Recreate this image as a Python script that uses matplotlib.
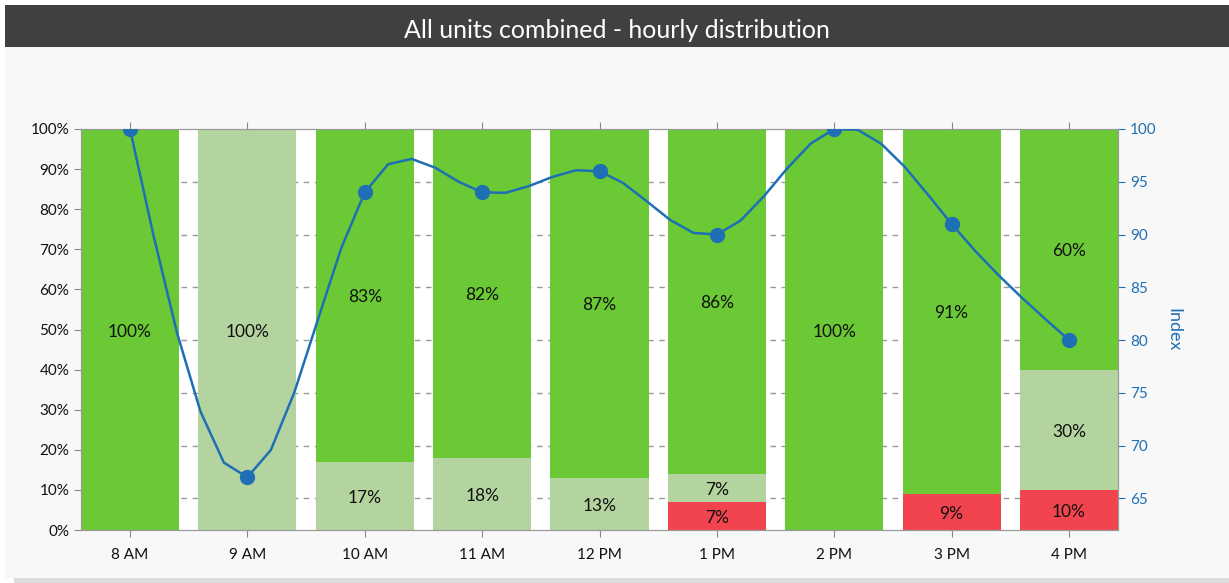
import numpy as np
import matplotlib.pyplot as plt
from matplotlib.patches import Rectangle

plt.rcParams['font.family'] = ['Lato', 'DejaVu Sans']

hours = ['8 AM', '9 AM', '10 AM', '11 AM', '12 PM', '1 PM', '2 PM', '3 PM', '4 PM']
red = [0, 0, 0, 0, 0, 7, 0, 9, 10]
light = [0, 100, 17, 18, 13, 7, 0, 0, 30]
green = [100, 0, 83, 82, 87, 86, 100, 91, 60]
index = [100, 67, 94, 94, 96, 90, 100, 91, 80]

c_red = '#f2444f'
c_light = '#b3d49f'
c_green = '#6ac934'
c_blue = '#1f6fb5'
idx_lo, idx_hi = 62, 100


def natural_spline(y, steps=5):
    # natural cubic spline through equally spaced points, sampled coarsely
    y = np.asarray(y, float)
    n = len(y)
    A = np.zeros((n, n))
    b = np.zeros(n)
    A[0, 0] = A[-1, -1] = 1
    for i in range(1, n - 1):
        A[i, i - 1:i + 2] = [1, 4, 1]
        b[i] = 6 * (y[i + 1] - 2 * y[i] + y[i - 1])
    M = np.linalg.solve(A, b)
    xs, ys = [], []
    for i in range(n - 1):
        for t in np.linspace(0, 1, steps, endpoint=False):
            s = ((1 - t) * y[i] + t * y[i + 1]
                 + ((1 - t) ** 3 - (1 - t)) * M[i] / 6
                 + (t ** 3 - t) * M[i + 1] / 6)
            xs.append(i + t)
            ys.append(s)
    xs.append(n - 1)
    ys.append(y[-1])
    return np.array(xs), np.array(ys)


fig = plt.figure(figsize=(12.29, 5.83), dpi=100, facecolor='white')
W, H = 1229, 583
fig.patches.append(Rectangle((5 / W, 5 / H), 1, 1 - 52 / H, transform=fig.transFigure,
                             facecolor='#f8f8f8', edgecolor='none', zorder=-2))
fig.patches.append(Rectangle((14 / W, 0), 1, 5 / H, transform=fig.transFigure,
                             facecolor='#dddddd', edgecolor='none', zorder=-2))
fig.patches.append(Rectangle((5 / W, 1 - 47 / H), 1, 42 / H, transform=fig.transFigure,
                             facecolor='#404040', edgecolor='none', zorder=-1))
fig.text(617 / W, 1 - 30 / H, 'All units combined - hourly distribution', color='white',
         fontsize=18, ha='center', va='center')

ax = fig.add_axes([81 / W, 53 / H, (1118 - 81) / W, (530 - 129) / H])
ax.set_facecolor('white')
x = np.arange(len(hours))
w = 0.835
bottom = np.zeros(len(hours))
for vals, col in [(red, c_red), (light, c_light), (green, c_green)]:
    vals = np.array(vals, float)
    ax.bar(x, vals, w, bottom=bottom, color=col, zorder=2)
    for xi, v, b0 in zip(x, vals, bottom):
        if v > 0:
            ax.text(xi, b0 + v / 2 - 0.5, f'{int(v)}%', ha='center', va='center',
                    fontsize=12.5, color='#111111', zorder=5)
    bottom += vals

ax.set_xlim(-w / 2, len(hours) - 1 + w / 2)
ax.set_ylim(0, 100)
ax.set_yticks(range(0, 101, 10))
ax.set_yticklabels([f'{v}%' for v in range(0, 101, 10)])
ax.set_xticks(x)
ax.set_xticklabels(hours)
ax.tick_params(axis='both', colors='#888888', labelcolor='#111111', labelsize=11, length=5)
ax.tick_params(axis='x', top=True, pad=8)
for s in ax.spines.values():
    s.set_color('#999999')

# dashed gridlines at the index ticks, behind the bars
for v in range(65, 100, 5):
    ax.axhline((v - idx_lo) / (idx_hi - idx_lo) * 100, color='#999999', lw=1,
               ls=(0, (4, 4)), zorder=1)

ax2 = ax.twinx()
ax2.set_ylim(idx_lo, idx_hi)
ax2.set_yticks(range(65, 101, 5))
ax2.tick_params(axis='y', colors=c_blue, labelsize=11, length=5)
for s in ax2.spines.values():
    s.set_color('#999999')
ax2.set_ylabel('Index', color=c_blue, fontsize=13, rotation=270, labelpad=18)
sx, sy = natural_spline(index)
ax2.plot(sx, sy, color=c_blue, lw=1.8, zorder=3)
ax2.plot(x, index, 'o', color=c_blue, ms=10, zorder=4)

fig.savefig('out.png', dpi=100, facecolor=fig.get_facecolor())
